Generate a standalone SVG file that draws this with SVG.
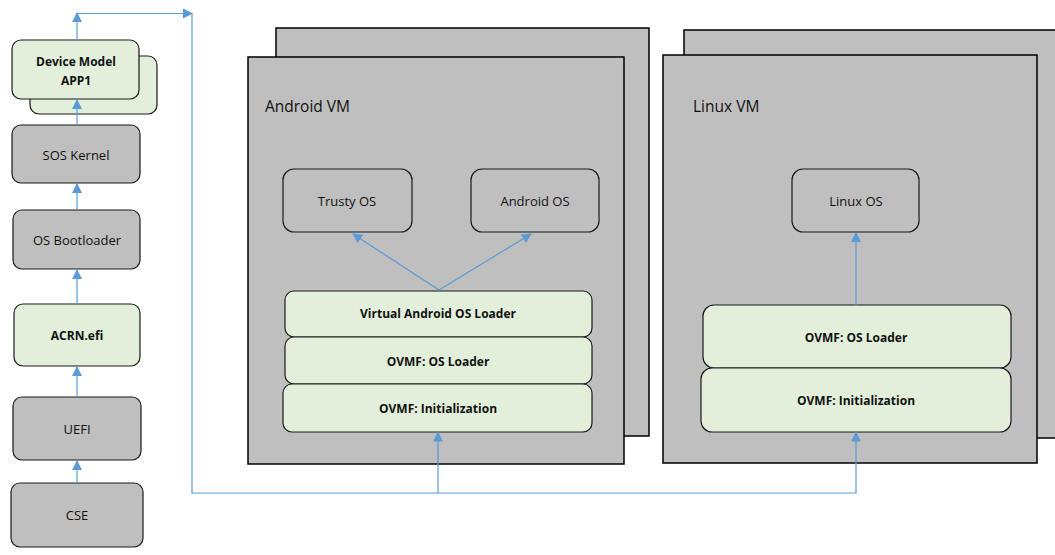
<svg xmlns="http://www.w3.org/2000/svg" width="1055" height="555" viewBox="0 0 1055 555">
<style>
.vm{fill:#BFBFBF;stroke:#000;stroke-width:1.5}
.g{fill:#BFBFBF;stroke:#1a1a1a;stroke-width:1.2}
.gr{fill:#E2EFDA;stroke:#1a1a1a;stroke-width:1.2}
text{font-family:"Open Sans","Liberation Sans",sans-serif;font-size:13px;fill:#111;text-anchor:middle;dominant-baseline:central}
.b{font-weight:bold;font-size:12px}
.t{font-size:15.5px;text-anchor:start}
.c{fill:none;stroke:#5B9BD5;stroke-width:1.2}
</style>
<defs>
<marker id="ah" markerWidth="10" markerHeight="10" refX="9" refY="5" orient="auto" markerUnits="userSpaceOnUse">
<path d="M0,0 L10,5 L0,10 Z" fill="#5B9BD5"/>
</marker>
</defs>
<g id="android-vm">
<rect class="vm" x="276" y="28" width="373" height="408"/>
<rect class="vm" x="248" y="57" width="376" height="407"/>
<text class="t" x="265" y="106">Android VM</text>
</g>
<g id="linux-vm">
<rect class="vm" x="684" y="30" width="380" height="408"/>
<rect class="vm" x="663" y="55" width="374" height="408"/>
<text class="t" x="693" y="106">Linux VM</text>
</g>
<g id="device-model">
<rect class="gr" x="30" y="56" width="127" height="58" rx="9"/>
<rect class="gr" x="12" y="40" width="127" height="59" rx="9"/>
<text class="b" x="76" y="61">Device Model</text>
<text class="b" x="76" y="80">APP1</text>
</g>
<g id="sos-kernel"><rect class="g" x="12" y="125" width="128" height="58" rx="9"/><text x="76" y="155">SOS Kernel</text></g>
<g id="os-bootloader"><rect class="g" x="13" y="210" width="127" height="59" rx="9"/><text x="77" y="240">OS Bootloader</text></g>
<g id="acrn-efi"><rect class="gr" x="14" y="304" width="126" height="62" rx="9"/><text class="b" x="77" y="335">ACRN.efi</text></g>
<g id="uefi"><rect class="g" x="13" y="397" width="128" height="63" rx="9"/><text x="77" y="429">UEFI</text></g>
<g id="cse"><rect class="g" x="11" y="483" width="132" height="64" rx="9"/><text x="77" y="515">CSE</text></g>
<g id="trusty-os"><rect class="g" x="283" y="169" width="129" height="63" rx="11"/><text x="347" y="201">Trusty OS</text></g>
<g id="android-os"><rect class="g" x="471" y="169" width="128" height="63" rx="11"/><text x="535" y="201">Android OS</text></g>
<g id="virtual-android-os-loader"><rect class="gr" x="285" y="291" width="307" height="46" rx="9"/><text class="b" x="438" y="313">Virtual Android OS Loader</text></g>
<g id="android-ovmf-os-loader"><rect class="gr" x="285" y="337" width="307" height="47" rx="9"/><text class="b" x="438" y="361">OVMF: OS Loader</text></g>
<g id="android-ovmf-init"><rect class="gr" x="283" y="384" width="309" height="48" rx="9"/><text class="b" x="438" y="408">OVMF: Initialization</text></g>
<g id="linux-os"><rect class="g" x="792" y="169" width="127" height="63" rx="11"/><text x="856" y="201">Linux OS</text></g>
<g id="linux-ovmf-os-loader"><rect class="gr" x="703" y="305" width="308" height="63" rx="11"/><text class="b" x="856" y="337">OVMF: OS Loader</text></g>
<g id="linux-ovmf-init"><rect class="gr" x="701" y="368" width="310" height="64" rx="11"/><text class="b" x="856" y="400">OVMF: Initialization</text></g>
<g id="connectors">
<path class="c" d="M77,483 V461" marker-end="url(#ah)"/>
<path class="c" d="M77,397 V367" marker-end="url(#ah)"/>
<path class="c" d="M77,304 V270" marker-end="url(#ah)"/>
<path class="c" d="M77,210 V184" marker-end="url(#ah)"/>
<path class="c" d="M77,125 V100" marker-end="url(#ah)"/>
<path class="c" d="M77,40 V13" marker-end="url(#ah)"/>
<path class="c" d="M77,13.5 H192" marker-end="url(#ah)"/>
<path class="c" d="M192,13.5 V493 H856 V432.5" marker-end="url(#ah)"/>
<path class="c" d="M438,493 V432.5" marker-end="url(#ah)"/>
<path class="c" d="M439,290 L353,234" marker-end="url(#ah)"/>
<path class="c" d="M439,290 L531,234" marker-end="url(#ah)"/>
<path class="c" d="M856,305 V233" marker-end="url(#ah)"/>
</g>
</svg>
